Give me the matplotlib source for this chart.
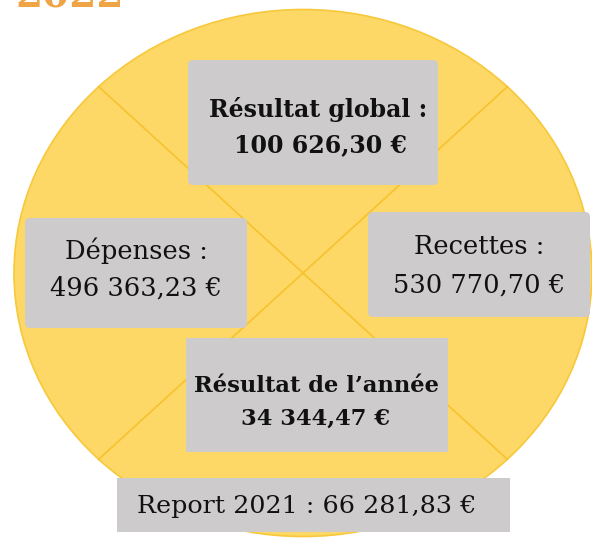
import matplotlib
matplotlib.use("Agg")
import matplotlib.pyplot as plt
from matplotlib.patches import Ellipse, FancyBboxPatch
import numpy as np

# data
title = "2022"
labels = ["Résultat global :", "Dépenses :", "Recettes :", "Résultat de l’année", "Report 2021 :"]
amounts = [100626.30, 496363.23, 530770.70, 34344.47, 66281.83]
bold = [True, False, False, True, False]


def fmt_eur(v):
    s = f"{v:,.2f}".replace(",", " ").replace(".", ",")
    return s + " €"


plt.rcParams['font.family'] = ['DejaVu Serif']

fig = plt.figure(figsize=(5.92, 5.41), dpi=100)
ax = fig.add_axes([0, 0, 1, 1])
ax.set_xlim(0, 592)
ax.set_ylim(541, 0)
ax.axis('off')

# big yellow disc
cx, cy, w, h = 303, 273, 578, 527
ax.add_patch(Ellipse((cx, cy), w, h, facecolor='#fdd866', edgecolor='#f7c83a', lw=1.2, zorder=1))

# the X across the disc
for ang in [45, 135]:
    t = np.deg2rad(ang)
    dx, dy = w / 2 * np.cos(t), h / 2 * np.sin(t)
    ax.plot([cx - dx, cx + dx], [cy - dy, cy + dy], color='#f6c22e', lw=1.2, zorder=2)

# boxes: (x0, y0, x1, y1, rounded)
boxes = [
    (188, 60, 438, 185, True),
    (25, 218, 247, 328, True),
    (368, 212, 590, 317, True),
    (186, 338, 448, 452, False),
    (117, 478, 510, 532, False),
]
for (x0, y0, x1, y1, rnd) in boxes:
    style = "round,pad=0,rounding_size=5" if rnd else "square,pad=0"
    ax.add_patch(FancyBboxPatch((x0, y0), x1 - x0, y1 - y0, boxstyle=style,
                                facecolor='#cdcbcc', edgecolor='none', zorder=3))

# text lines (centre x, line1 y, line2 y, size)
txt_pos = [
    (318, 109, 145, 17),
    (136, 251, 288, 18.5),
    (479, 246, 285, 18.5),
    (316, 386, 419, 16.3),
]
for i, (x, y1, y2, fs) in enumerate(txt_pos):
    fw = 'bold' if bold[i] else 'normal'
    ax.text(x, y1, labels[i], ha='center', va='center', fontsize=fs,
            fontweight=fw, color='#111111', zorder=4)
    ax.text(x + (3 if i == 0 else 0), y2, fmt_eur(amounts[i]), ha='center', va='center',
            fontsize=fs, fontweight=fw, color='#111111', zorder=4)

ax.text(307, 506, labels[4] + " " + fmt_eur(amounts[4]), ha='center', va='center',
        fontsize=18.3, color='#111111', zorder=4)

# title, cut at the top edge
ax.text(15, 8, title, ha='left', va='baseline', fontsize=28, fontweight='bold',
        color='#efa545', zorder=4)

fig.savefig("out.png", dpi=100)
